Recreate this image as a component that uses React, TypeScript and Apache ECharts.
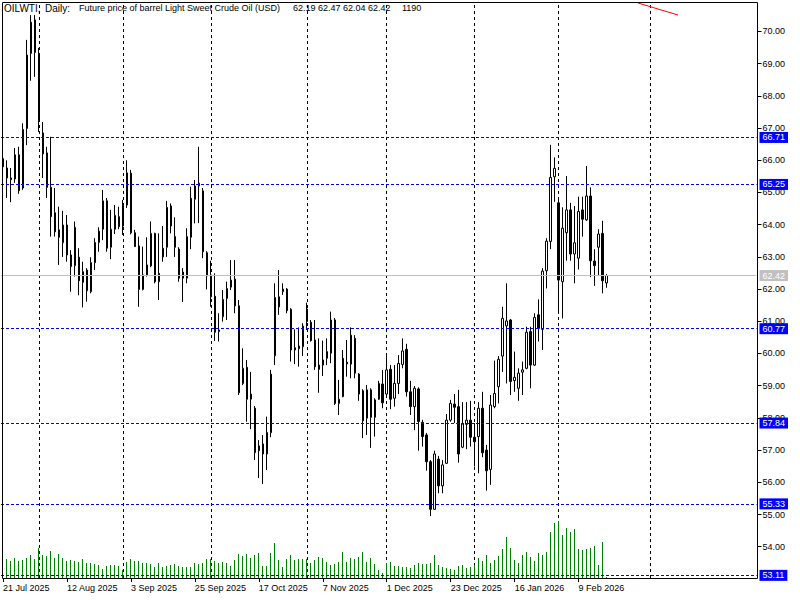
import React, { useEffect, useRef } from "react";
import * as echarts from "echarts";

const FONT = '"Liberation Sans", Arial, sans-serif';

const opens = [
  66.05, 65.76, 65.45, 65.42, 66.17, 65.14, 66.99, 69.32, 70.36, 69.32,
  66.85, 66.23, 65.16, 64.37, 63.84, 63.44, 63.99, 63.06, 62.73, 62.99,
  62.21, 62.59, 61.92, 62.82, 63.45, 63.86, 64.74, 63.30, 63.86, 64.25,
  63.96, 64.61, 65.60, 63.75, 63.34, 61.99, 62.44, 62.72, 63.73, 62.23,
  63.00, 63.30, 64.58, 63.63, 63.24, 62.34, 62.34, 63.61, 64.79, 65.20,
  65.05, 63.13, 62.44, 61.78, 60.68, 61.14, 61.71, 62.06, 62.31, 61.48,
  59.07, 59.57, 58.58, 58.30, 56.98, 57.19, 56.88, 57.54, 59.93, 61.76,
  61.92, 62.00, 61.37, 60.18, 60.15, 60.21, 61.38, 60.97, 60.42, 59.64,
  59.64, 59.85, 60.01, 61.04, 58.45, 58.66, 59.73, 59.67, 60.47, 59.36,
  58.84, 57.99, 58.87, 58.02, 58.58, 59.05, 58.74, 59.51, 58.61, 59.07,
  59.66, 60.13, 58.81, 58.35, 58.90, 57.86, 57.47, 56.64, 55.16, 56.72,
  55.89, 56.59, 57.93, 58.43, 58.35, 57.09, 57.80, 57.93, 57.40, 57.42,
  58.30, 57.00, 56.40, 58.35, 58.97, 59.92, 60.86, 61.04, 59.16, 58.92,
  59.42, 59.54, 60.68, 59.64, 61.20, 60.75, 62.57, 63.48, 65.49, 64.68,
  62.23, 63.75, 64.46, 63.09, 62.96, 64.46, 64.15, 64.89, 62.87, 63.30,
  63.73, 62.19,
];

const highs = [
  66.30, 66.00, 65.76, 66.38, 66.42, 67.15, 69.74, 70.51, 70.51, 69.49,
  67.19, 66.42, 66.73, 65.14, 64.56, 64.43, 64.30, 63.21, 64.10, 63.27,
  62.85, 62.65, 62.99, 63.58, 63.92, 65.08, 64.83, 64.46, 64.61, 64.56,
  64.77, 66.00, 65.70, 63.84, 63.63, 63.32, 63.61, 64.10, 63.75, 63.73,
  63.96, 64.74, 64.66, 64.23, 63.30, 62.65, 63.89, 65.18, 65.39, 66.42,
  65.14, 63.18, 62.88, 62.49, 61.25, 61.97, 62.23, 62.90, 62.90, 61.66,
  60.16, 59.80, 59.43, 58.37, 57.31, 57.47, 58.04, 59.49, 62.18, 62.59,
  62.18, 62.03, 61.41, 60.75, 60.81, 60.94, 61.58, 61.04, 61.04, 60.47,
  60.40, 60.47, 61.30, 61.10, 59.18, 60.11, 60.42, 60.81, 60.57, 59.39,
  58.89, 59.02, 58.92, 58.61, 59.15, 59.49, 59.95, 59.64, 59.64, 59.95,
  60.47, 60.30, 59.15, 58.99, 58.95, 57.94, 57.53, 56.69, 56.98, 56.82,
  56.69, 58.12, 58.56, 58.74, 58.87, 58.49, 58.49, 58.53, 57.84, 58.49,
  58.81, 57.16, 58.71, 59.78, 59.92, 61.45, 62.18, 61.07, 60.06, 59.54,
  59.75, 60.83, 60.83, 61.25, 61.68, 62.65, 63.58, 66.48, 66.09, 64.77,
  64.54, 65.51, 64.68, 64.58, 64.87, 64.87, 65.82, 65.16, 63.24, 63.86,
  64.12, 62.47,
];

const lows = [
  65.60, 64.83, 64.70, 65.30, 64.96, 65.08, 66.47, 68.47, 68.59, 66.88,
  65.45, 64.83, 63.63, 63.63, 62.75, 63.00, 62.85, 61.92, 62.39, 61.81,
  61.43, 61.61, 61.87, 62.59, 63.16, 63.52, 63.16, 62.93, 63.71, 63.86,
  63.68, 64.52, 63.70, 63.31, 61.45, 61.96, 62.39, 62.68, 62.18, 61.66,
  62.85, 63.00, 63.73, 63.00, 62.23, 61.60, 62.18, 63.24, 64.04, 64.05,
  62.96, 61.99, 61.45, 60.39, 60.37, 60.99, 61.04, 61.97, 61.25, 58.71,
  59.02, 57.88, 57.65, 56.69, 56.13, 55.95, 56.38, 57.40, 59.64, 61.20,
  61.82, 61.25, 59.75, 59.67, 59.59, 59.92, 60.73, 60.37, 59.49, 58.78,
  59.30, 59.64, 59.70, 58.40, 58.09, 58.64, 59.28, 59.23, 59.23, 58.53,
  57.37, 57.47, 57.07, 57.42, 58.56, 58.30, 58.70, 58.27, 58.35, 58.74,
  59.54, 58.66, 58.09, 57.62, 56.98, 57.11, 56.36, 54.95, 55.14, 55.66,
  55.66, 56.57, 57.88, 57.84, 56.61, 57.06, 57.03, 57.11, 56.49, 56.28,
  56.78, 55.74, 55.92, 58.30, 58.45, 59.43, 59.07, 58.71, 58.81, 58.53,
  58.71, 59.51, 58.92, 59.61, 60.37, 60.11, 62.02, 63.24, 64.71, 61.30,
  61.09, 62.88, 62.88, 62.18, 62.61, 63.63, 64.12, 62.37, 62.10, 62.44,
  61.87, 62.04,
];

const closes = [
  65.80, 65.45, 65.40, 66.17, 65.06, 66.96, 69.27, 70.29, 69.35, 67.23,
  66.20, 65.16, 64.25, 63.78, 63.61, 63.99, 63.06, 62.70, 63.92, 62.26,
  62.54, 61.95, 62.82, 63.45, 63.80, 64.74, 63.27, 63.86, 64.29, 63.94,
  64.61, 65.61, 63.75, 63.32, 61.99, 62.44, 62.75, 63.73, 62.23, 62.49,
  63.27, 64.54, 63.96, 63.30, 62.34, 62.53, 63.63, 64.82, 65.20, 65.29,
  63.16, 62.41, 61.76, 60.66, 60.73, 61.68, 62.02, 62.28, 61.48, 58.78,
  59.54, 58.58, 58.74, 56.92, 57.13, 56.88, 57.55, 59.36, 61.74, 61.45,
  62.00, 61.33, 60.11, 60.11, 60.23, 60.85, 60.99, 60.40, 59.59, 59.51,
  59.80, 60.06, 61.04, 58.45, 58.58, 59.85, 59.68, 60.57, 59.39, 58.74,
  57.91, 58.87, 58.02, 58.56, 59.07, 58.47, 59.49, 58.58, 59.07, 59.69,
  60.08, 58.81, 58.35, 58.92, 57.89, 57.42, 56.64, 55.16, 56.88, 55.89,
  56.54, 57.93, 58.45, 58.33, 56.88, 57.81, 57.93, 57.40, 57.26, 58.30,
  56.92, 56.36, 58.40, 58.76, 59.82, 61.09, 61.01, 59.13, 59.26, 59.39,
  59.49, 60.66, 59.64, 61.12, 60.78, 62.56, 63.49, 65.47, 65.75, 62.28,
  63.89, 64.46, 63.09, 63.44, 64.41, 64.17, 64.89, 62.88, 62.73, 63.71,
  62.26, 62.42,
];

const volumes = [
  20000, 21900, 19550, 23000, 19900, 21100, 23000, 26450, 21850, 34900,
  26450, 24900, 31050, 23000, 27600, 22600, 19550, 20700, 19900, 18800,
  21850, 17250, 17250, 16100, 15300, 10350, 13800, 14950, 14950, 14200,
  9200, 18800, 21850, 19900, 19550, 17250, 17250, 16100, 12650, 17250,
  12650, 13400, 14950, 15700, 13400, 13000, 13000, 13000, 17250, 16500,
  17250, 21850, 21850, 19550, 17250, 18800, 16900, 14200, 20700, 27600,
  25300, 27950, 23400, 26450, 28750, 13400, 13400, 28750, 40250, 20700,
  12250, 21850, 26450, 20700, 21850, 21850, 21850, 17250, 20700, 24150,
  23400, 18400, 15300, 16100, 18400, 29900, 18400, 23000, 21850, 24150,
  29900, 18400, 23000, 16100, 9200, 5750, 17250, 18800, 13800, 13800,
  12650, 12650, 11500, 14950, 17250, 16100, 16100, 17250, 26450, 14550,
  12650, 11500, 10350, 9200, 13800, 14550, 11900, 12650, 14950, 23000,
  19900, 26450, 17250, 20700, 25300, 33350, 47150, 34500, 20700, 17250,
  26450, 29900, 24150, 19550, 28750, 26450, 29900, 52900, 63250, 65550,
  49450, 57500, 52900, 56350, 33350, 32200, 33350, 34500, 36800, 14950,
  41400, 1190,
];

const dateLabels = [
  "21 Jul 2025", "12 Aug 2025", "3 Sep 2025", "25 Sep 2025", "17 Oct 2025",
  "7 Nov 2025", "1 Dec 2025", "23 Dec 2025", "16 Jan 2026", "9 Feb 2026",
];
const labelStep = 16;
const totalSlots = 189;
const monthStarts = [9, 30, 52, 76, 96, 118, 139, 162];
const levels = [66.71, 65.25, 60.77, 57.84, 55.33, 53.11];
const lastPrice = 62.42;
const priceTicks = [54, 55, 56, 57, 58, 59, 60, 61, 62, 63, 64, 65, 66, 67, 68, 69, 70];
const priceMin = 53.028;
const priceMax = 70.916;
const volumeMax = 662400;

const headerParts = ["OILWTI,", "Daily:", "Future price of barrel Light Sweet Crude Oil (USD)", "62.19 62.47 62.04 62.42", "1190"];

export default function App() {
  const ref = useRef<HTMLDivElement>(null);

  useEffect(() => {
    if (!ref.current) return;
    const chart = echarts.init(ref.current, undefined, { renderer: "svg" });
    const categories = Array.from({ length: totalSlots }, (_, i) => String(i));
    const candleData = opens.map((o, i) => [o, closes[i], lows[i], highs[i]]);
    const volumeData = volumes.map((v, i) => [i, v]);
    const showIdx = (i: number) => i % labelStep === 0 && i / labelStep < dateLabels.length;

    const levelLines: any[] = levels.map((v) => ({
      yAxis: v,
      lineStyle: { color: "#0000ff", type: [3, 2], width: 1 },
      label: { backgroundColor: "#0000ff" },
    }));
    levelLines.push({
      yAxis: lastPrice,
      lineStyle: { color: "#c0c0c0", type: "solid", width: 1 },
      label: { backgroundColor: "#c0c0c0" },
    });

    const headerX = [4, 45, 79, 293, 402];
    const headerSize = [10, 10, 9, 9, 9];

    chart.setOption({
      animation: false,
      backgroundColor: "#ffffff",
      textStyle: { fontFamily: FONT },
      grid: { left: 0.5, top: 2, width: 756, height: 576, containLabel: false },
      xAxis: {
        type: "category",
        data: categories,
        boundaryGap: true,
        axisLine: { show: false },
        axisTick: {
          show: true,
          alignWithLabel: true,
          interval: (i: number) => showIdx(i),
          length: 4,
          lineStyle: { color: "#000" },
        },
        axisLabel: {
          interval: (i: number) => showIdx(i),
          formatter: (_v: string, i: number) => dateLabels[i / labelStep] ?? "",
          align: "left",
          margin: 5,
          fontSize: 9,
          color: "#000",
          fontFamily: FONT,
        },
        splitLine: { show: false },
      },
      yAxis: [
        {
          type: "value",
          position: "right",
          offset: 1,
          min: priceMin,
          max: priceMax,
          axisLine: { show: false },
          axisTick: { show: true, length: 4, customValues: priceTicks, lineStyle: { color: "#000" } },
          axisLabel: {
            customValues: priceTicks,
            formatter: (v: number) => v.toFixed(2),
            margin: 5,
            fontSize: 9,
            color: "#000",
            fontFamily: FONT,
          },
          splitLine: { show: false },
        },
        { type: "value", min: 0, max: volumeMax, show: false },
      ],
      series: [
        {
          type: "custom",
          xAxisIndex: 0,
          yAxisIndex: 1,
          data: volumeData,
          encode: { x: 0, y: 1 },
          silent: true,
          clip: true,
          renderItem: (_params: any, api: any) => {
            const base = api.coord([api.value(0), 0]);
            const top = api.coord([api.value(0), api.value(1)]);
            const x = Math.floor(base[0]);
            const y0 = Math.round(base[1]);
            const y1 = Math.round(top[1]);
            return {
              type: "rect",
              shape: { x, y: y1, width: 1, height: Math.max(1, y0 - y1) },
              style: { fill: "#008000" },
            };
          },
          markLine: {
            silent: true,
            z: 1,
            symbol: ["none", "none"],
            label: { show: false },
            lineStyle: { color: "#000", type: [3, 3], width: 1 },
            data: monthStarts.map((i) => ({ xAxis: i })),
          },
        },
        {
          type: "candlestick",
          data: candleData,
          barWidth: 2,
          silent: true,
          itemStyle: {
            color: "#ffffff",
            color0: "#000000",
            borderColor: "#000000",
            borderColor0: "#000000",
            borderColorDoji: "#000000",
            borderWidth: 1,
          },
          markLine: {
            silent: true,
            symbol: ["none", "none"],
            label: {
              show: true,
              position: "end",
              distance: 3,
              formatter: (p: any) => Number(p.value).toFixed(2),
              color: "#ffffff",
              fontSize: 9,
              fontFamily: FONT,
              padding: [1, 3, 0, 3],
              lineHeight: 10,
            },
            data: levelLines,
          },
        },
      ],
      graphic: [
        {
          type: "rect",
          silent: true,
          z: 100,
          shape: { x: 2.5, y: 2.5, width: 755, height: 576 },
          style: { fill: "none", stroke: "#000", lineWidth: 1 },
        },
        {
          type: "line",
          silent: true,
          z: 100,
          shape: { x1: 638, y1: 3, x2: 678, y2: 15 },
          style: { stroke: "#ff0000", lineWidth: 1 },
        },
        ...headerParts.map((t, k) => ({
          type: "text",
          silent: true,
          z: 100,
          x: headerX[k],
          y: 8,
          style: { text: t, fill: "#000", fontSize: headerSize[k], fontFamily: FONT, verticalAlign: "middle" },
        })),
      ],
    });
    return () => chart.dispose();
  }, []);

  return (
    <div
      ref={ref}
      style={{ position: "absolute", left: 0, top: 0, width: 800, height: 600, background: "#fff" }}
    />
  );
}
